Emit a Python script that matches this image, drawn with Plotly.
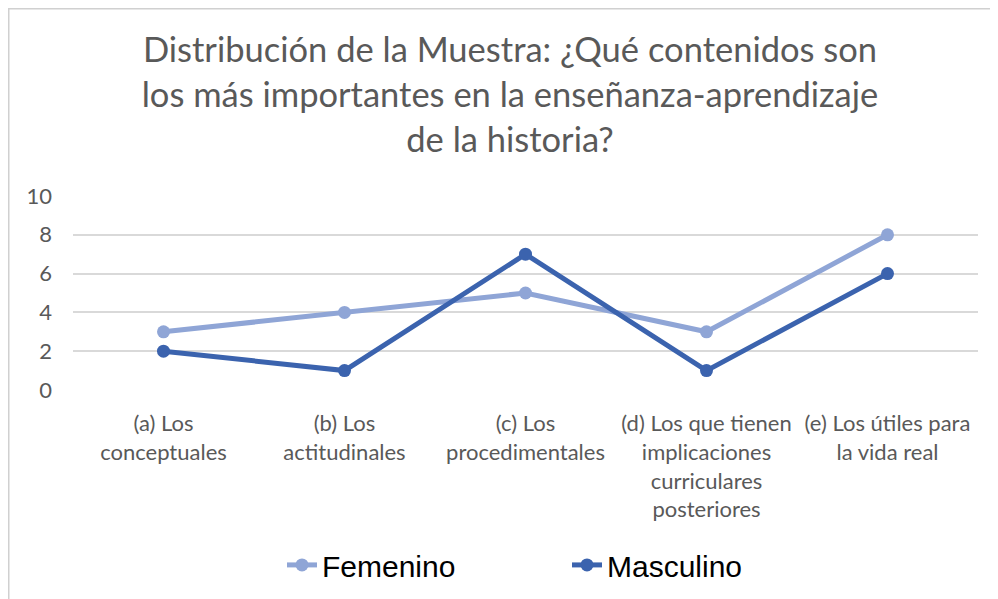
import plotly.graph_objects as go

categorias = [
    "(a) Los<br>conceptuales",
    "(b) Los<br>actitudinales",
    "(c) Los<br>procedimentales",
    "(d) Los que tienen<br>implicaciones<br>curriculares<br>posteriores",
    "(e) Los útiles para<br>la vida real",
]
femenino = [3, 4, 5, 3, 8]
masculino = [2, 1, 7, 1, 6]

titulo = ("Distribución de la Muestra: ¿Qué contenidos son<br>"
          "los más importantes en la enseñanza-aprendizaje<br>"
          "de la historia?")

fig = go.Figure()
fig.add_trace(go.Scatter(x=categorias, y=femenino, name="Femenino", mode="lines+markers",
                         line=dict(color="#8FA5D6", width=5),
                         marker=dict(color="#8FA5D6", size=13)))
fig.add_trace(go.Scatter(x=categorias, y=masculino, name="Masculino", mode="lines+markers",
                         line=dict(color="#3B63AE", width=5),
                         marker=dict(color="#3B63AE", size=13)))

# plot area in px: left 65, width 905, top 187, height 195
# chart border, like the Excel chart area
fig.add_shape(type="rect", xref="paper", yref="paper",
              x0=(0.75 - 65) / 905, x1=1.2, y0=-1.5, y1=(382 - 0.75) / 195,
              line=dict(color="#d0d0d0", width=1.5), fillcolor="rgba(0,0,0,0)")

fig.update_layout(
    width=998, height=599,
    margin=dict(l=65, r=28, t=187, b=217),
    paper_bgcolor="white", plot_bgcolor="white",
    font=dict(family="Lato, sans-serif", color="#595959", size=22),
    title=dict(text=titulo, x=0.503, xanchor="center", y=1 - 54 / 599, yanchor="middle",
               yref="container", font=dict(size=34.5, color="#595959")),
    showlegend=True,
    legend=dict(orientation="h", x=(274 - 65) / 905, xanchor="left", y=-0.897, yanchor="middle",
                font=dict(family="Liberation Sans, Arial, sans-serif", size=30, color="#000000"),
                entrywidth=240),
    xaxis=dict(type="category", range=[-0.5, 4.5], showgrid=False, showline=False,
               tickfont=dict(size=22, color="#595959"), ticks="outside", ticklen=14,
               tickcolor="rgba(0,0,0,0)"),
    yaxis=dict(range=[0, 10.05], tickvals=[0, 2, 4, 6, 8, 10], showgrid=True,
               gridcolor="#d9d9d9", gridwidth=1.5,
               zeroline=False, showline=False, ticklabelstandoff=20,
               tickfont=dict(size=22, color="#595959")),
)

fig.write_html("out.html")
